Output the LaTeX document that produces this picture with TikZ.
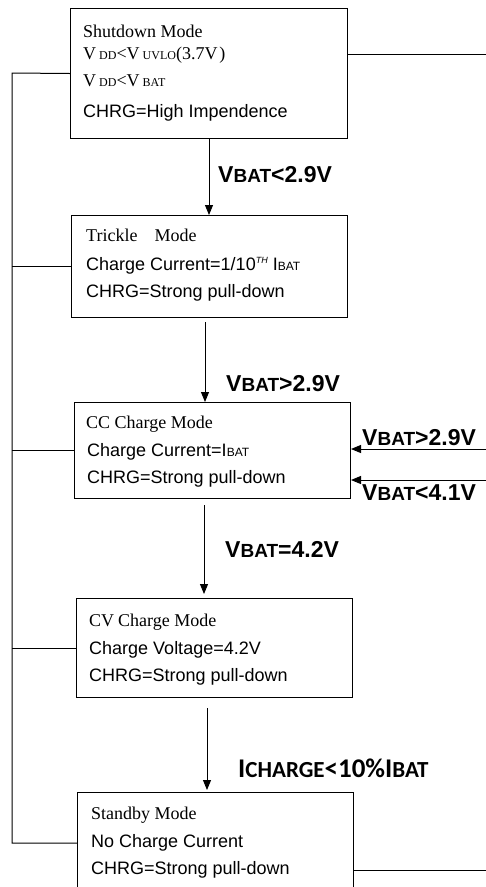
\documentclass[tikz,border=0pt]{standalone}
\usepackage{fontspec}
\setmainfont{Liberation Sans}
\newfontfamily\serifA{Liberation Serif}
\newfontfamily\calfont{Carlito}
\usetikzlibrary{arrows.meta}
\newcommand\fsz[1]{\fontsize{#1}{#1}\selectfont}
\newcommand\smc[1]{{\fsz{12}#1}}
\newcommand\sms[1]{{\fsz{12}#1}}
\begin{document}
\begin{tikzpicture}[x=1pt,y=-1pt,
  box/.style={draw, line width=1pt, anchor=north west, inner sep=0pt},
  ln/.style={anchor=base west, inner sep=0pt, font=\fsz{18}},
  sr/.style={anchor=base west, inner sep=0pt, font=\serifA\fsz{18}},
  lab/.style={anchor=base west, inner sep=0pt, font=\bfseries\fsz{23}},
  wire/.style={line width=1pt},
  arr/.style={wire, -{Triangle[width=8pt,length=10pt]}}]
\useasboundingbox (0,0) rectangle (486,887);
\clip (0,0) rectangle (486,887);

% boxes
\node[box, minimum width=277pt, minimum height=130pt] (b1) at (70,8) {};
\node[box, minimum width=276pt, minimum height=102pt] (b2) at (71,215) {};
\node[box, minimum width=276pt, minimum height=96pt] (b3) at (74,402) {};
\node[box, minimum width=276pt, minimum height=99pt] (b4) at (76,598) {};
\node[box, minimum width=276pt, minimum height=102pt] (b5) at (77,792) {};

% box texts
\node[sr] (t1a) at (83,37) {Shutdown Mode};
\node[sr] (t1b) at (83,59) {V\kern3pt\smc{DD}<V\kern3pt\smc{UVLO}(3.7V\kern2pt)};
\node[sr] (t1c) at (83,86) {V\kern3pt\smc{DD}<V\kern3pt\smc{BAT}};
\node[ln] (t1d) at (83,117) {CHRG=High Impendence};

\node[sr] (t2a) at (86,241) {Trickle\hspace{17pt}Mode};
\node[ln] (t2b) at (86,270) {Charge Current=1/10\raisebox{7pt}{\fsz{9}\itshape TH}\kern5pt I\sms{BAT}};
\node[ln] (t2c) at (86,297) {CHRG=Strong pull-down};

\node[sr] (t3a) at (86,428) {CC Charge Mode};
\node[ln] (t3b) at (87,456) {Charge Current=I\sms{BAT}};
\node[ln] (t3c) at (87,483) {CHRG=Strong pull-down};

\node[sr] (t4a) at (89,626) {CV\kern4pt Charge Mode};
\node[ln] (t4b) at (89,654) {Charge Voltage=4.2V};
\node[ln] (t4c) at (89,681) {CHRG=Strong pull-down};

\node[sr] (t5a) at (91,819) {Standby Mode};
\node[ln] (t5b) at (91,847) {No Charge Current};
\node[ln] (t5c) at (91,874) {CHRG=Strong pull-down};

% left bus
\coordinate (busT) at (12,73);
\coordinate (busB) at (12,843);
\draw[wire] (b1.west) -- (busT) -- (busB) -- (b5.west |- busB);
\draw[wire] (b2.west) -- (b2.west -| busT);
\draw[wire] (b3.west) -- (b3.west -| busT);
\draw[wire] (b4.west) -- (b4.west -| busT);

% right lines
\coordinate (r1) at (486,54);
\coordinate (r5) at (486,870);
\draw[wire] (r1) -- (r1 -| b1.east);
\draw[wire] (r5) -- (r5 -| b5.east);
\coordinate (r3a) at (486,449);
\coordinate (r3b) at (486,480);
\draw[arr] (r3a) -- (r3a -| b3.east);
\draw[arr] (r3b) -- (r3b -| b3.east);

% vertical arrows
\coordinate (a1s) at (209,138);
\coordinate (a2s) at (205,322);
\coordinate (a3s) at (204,505);
\coordinate (a4s) at (207,708);
\draw[arr] (a1s) -- (a1s |- b2.north);
\draw[arr] (a2s) -- (a2s |- b3.north);
\draw[arr, shorten >=4pt] (a3s) -- (a3s |- b4.north);
\draw[arr, shorten >=2pt] (a4s) -- (a4s |- b5.north);

% labels
\node[lab] (l1) at (218,182) {V{\fsz{19}BAT}<2.9V};
\node[lab] (l2) at (226,391) {V{\fsz{19}BAT}>2.9V};
\node[lab] (l3) at (362,445) {V{\fsz{19}BAT}>2.9V};
\node[lab] (l4) at (362,500) {V{\fsz{19}BAT}<4.1V};
\node[lab] (l5) at (225,557) {V{\fsz{19}BAT}=4.2V};
\node[anchor=base west, inner sep=0pt, font=\calfont\bfseries\fsz{27}] (l6) at (238,777)
  {I{\fsz{23}CHARGE}<10\%I{\fsz{23}BAT}};
\end{tikzpicture}
\end{document}
